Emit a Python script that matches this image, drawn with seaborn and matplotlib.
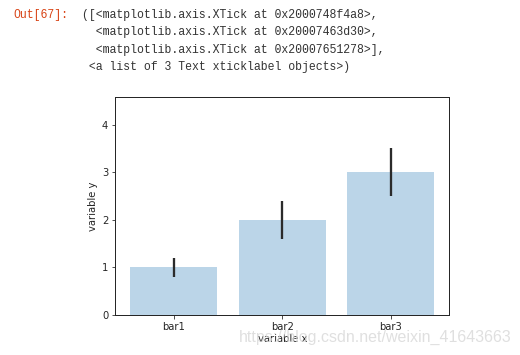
import matplotlib
matplotlib.use("Agg")
import matplotlib.pyplot as plt
import numpy as np
import pandas as pd
import seaborn as sns

# data
bar_names = ["bar1", "bar2", "bar3"]
bar_heights = [1.0, 2.0, 3.0]
bar_errors = [0.2, 0.4, 0.5]

out_lines = [
    "([<matplotlib.axis.XTick at 0x2000748f4a8>,",
    "  <matplotlib.axis.XTick at 0x20007463d30>,",
    "  <matplotlib.axis.XTick at 0x20007651278>],",
    " <a list of 3 Text xticklabel objects>)",
]

sns.set_style("ticks")
plt.rcParams["font.family"] = ["DejaVu Sans"]

df = pd.DataFrame({"name": bar_names, "height": bar_heights, "err": bar_errors})

W, H = 520, 355
fig = plt.figure(figsize=(W / 72, H / 72), dpi=72)
ax = fig.add_axes([115.3 / W, 40 / H, 334 / W, 218 / H])

sns.barplot(data=df, x="name", y="height", color="#1f77b4", alpha=0.3,
            saturation=1, width=0.8, errorbar=None, linewidth=0, ax=ax)
ax.errorbar(np.arange(len(df)), df["height"], yerr=df["err"], fmt="none",
            ecolor="#2b2b2b", elinewidth=2.3, capsize=0)

ax.set_xlim(-0.54, 2.54)
ax.set_ylim(0, 4.58)
ax.set_yticks([0, 1, 2, 3, 4])
ax.set_xlabel("variable x", fontsize=10, labelpad=2.5)
ax.set_ylabel("variable y", fontsize=10)
ax.tick_params(labelsize=10, length=3.5, width=0.8, colors="#262626")
for s in ax.spines.values():
    s.set_linewidth(1.0)
    s.set_color("#262626")

# notebook output text above the figure
fig.text(13 / W, 1 - 15 / H, "Out[67]:", color="#D84315", fontsize=11.5,
         family="Liberation Mono", va="center", ha="left")
for i, line in enumerate(out_lines):
    fig.text(82 / W, 1 - (15 + 17.3 * i) / H, line, color="#333333",
             fontsize=11.5, family="Liberation Mono", va="center", ha="left")

# watermark
fig.text(239 / W, 1 - 342 / H, "https://blog.csdn.net/weixin_41643663",
         color="#d8d8d8", alpha=0.8, fontsize=16, family="Liberation Sans",
         va="baseline", ha="left")

fig.savefig("out.png", dpi=72)
